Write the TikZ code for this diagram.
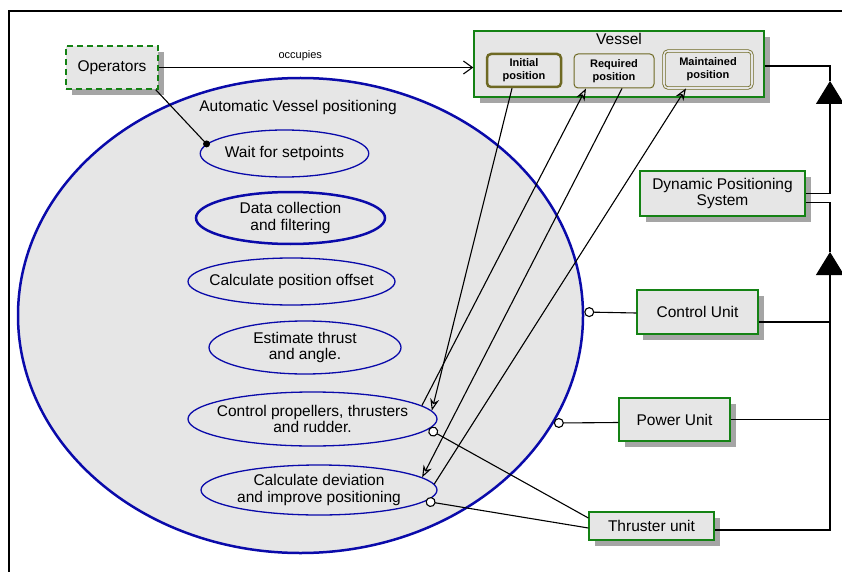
\documentclass[tikz,border=0pt]{standalone}
\usepackage{fontspec}
\setmainfont{Liberation Sans}
\usetikzlibrary{shapes.geometric,shadows,arrows.meta,positioning}
\definecolor{umlgreen}{RGB}{20,130,20}
\definecolor{umlblue}{RGB}{10,10,170}
\definecolor{umlolive}{RGB}{110,105,35}
\definecolor{umlfill}{RGB}{230,230,230}
\definecolor{umlshade}{RGB}{165,165,165}
\begin{document}
\begin{tikzpicture}[x=1pt,y=-1pt,
	font=\fontsize{15.5}{16.5}\selectfont,
	unit/.style={draw=umlgreen,line width=1.3pt,fill=umlfill,align=center,inner sep=2pt,
		drop shadow={shadow xshift=6pt,shadow yshift=-6pt,fill=umlshade,opacity=1}},
	posbox/.style={draw=umlolive,fill=umlfill,rounded corners=4pt,align=center,inner sep=1pt,
		font=\fontsize{11}{13}\selectfont\bfseries},
	task/.style={ellipse,draw=umlblue,line width=1.3pt,fill=umlfill,align=center,inner sep=0pt},
	link/.style={line width=1.1pt},
	flow/.style={link,-{Stealth[open,length=12pt,width=9pt]}},
	lolli/.style={link,-{Circle[length=10pt,fill=white]}},
	gen/.style={link,-{Triangle[length=23pt,width=28pt]}}]
	\useasboundingbox (0,0) rectangle (842,572);
	\draw[line width=2pt] (9,572) -- (9,11) -- (842,11);

	% use cases
	\node[ellipse,draw=umlblue,line width=2.5pt,fill=umlfill,minimum width=565pt,minimum height=475pt] (avp) at (300.5,315.5) {};
	\node at (298,107) {Automatic Vessel positioning};
	\node[task,minimum width=165pt,minimum height=47pt] (wait) at (284.5,153.5) {Wait for setpoints};
	\node[task,line width=2.5pt,minimum width=189pt,minimum height=52pt] (collect) at (290.5,218) {Data collection\\and filtering};
	\node[task,inner xsep=-9.5pt,minimum width=207pt,minimum height=47pt] (offset) at (291.5,281.5) {Calculate position offset};
	\node[task,minimum width=192pt,minimum height=53pt] (thrust) at (305,347.5) {Estimate thrust\\and angle.};
	\node[task,inner xsep=-8pt,minimum width=249pt,minimum height=54pt] (control) at (312.5,419) {Control propellers, thrusters\\and rudder.};
	\node[task,minimum width=236pt,minimum height=50pt] (deviation) at (319,490) {Calculate deviation\\and improve positioning};

	% actors and units
	\node[unit,dashed,dash pattern=on 6pt off 4pt,minimum width=92pt,minimum height=43pt] (ops) at (112,67.5) {Operators};
	\node[unit,minimum width=290pt,minimum height=66pt] (vessel) at (619,64) {};
	\node[anchor=north,inner sep=3pt] at (vessel.north) {Vessel};
	\node[posbox,line width=2.5pt,minimum width=74pt,minimum height=33pt] (init) at (524,70.5) {Initial\\position};
	\node[posbox,line width=1pt,minimum width=80pt,minimum height=34pt] (req) at (614,71) {Required\\position};
	\node[posbox,line width=0.8pt,double=umlfill,double distance=1.6pt,minimum width=88pt,minimum height=37pt] (maint) at (708,69.5) {Maintained\\position};
	\node[unit,minimum width=165pt,minimum height=45pt] (dps) at (722.5,193.5) {Dynamic Positioning\\System};
	\node[unit,minimum width=121pt,minimum height=44pt] (cu) at (697.5,312) {Control Unit};
	\node[unit,minimum width=111pt,minimum height=43pt] (pu) at (674.5,419.5) {Power Unit};
	\node[unit,minimum width=125pt,minimum height=28pt] (tu) at (651.5,526) {Thruster unit};

	% associations
	\draw[link,-{Straight Barb[length=9pt,width=13pt]}] (ops.east) -- node[pos=0.45,above=3pt,font=\fontsize{11}{12}\selectfont]{occupies} (ops.east -| vessel.west);
	\draw[link] ([xshift=-3pt]ops.south east) -- (wait.173);
	\fill (wait.173) circle (3.5pt);
	\draw[flow] ([xshift=-12pt]init.south) -- (control.4);
	\draw[flow] (control.7) -- ([xshift=-28pt]req.south);
	\draw[flow] ([xshift=8pt]req.south) -- (deviation.7);
	\draw[flow] (deviation.3) -- ([xshift=-22pt]maint.south);
	\draw[lolli] ([yshift=-1pt]cu.west) -- (cu.west -| avp.east);
	\draw[lolli] ([yshift=-3pt]pu.west) -- (avp.-23);
	\draw[lolli] ([yshift=8pt]tu.west) -- (control.-5);
	\draw[lolli] ([yshift=-2pt]tu.west) -- (deviation.-6);

	% generalisations
	\coordinate (tipA) at (830,81);
	\coordinate (tipB) at (830,252);
	\draw[link] ([yshift=-2pt]vessel.east) -| (tipA);
	\draw[gen] (dps.east) -| (tipA);
	\draw[link] ([yshift=-9pt]dps.east) -| (tipB);
	\draw[gen] ([yshift=-4pt]tu.east) -| (tipB);
	\draw[link] ([yshift=-10pt]cu.east) -- ([yshift=-10pt]cu.east -| tipB);
	\draw[link] (pu.east) -- (pu.east -| tipB);
\end{tikzpicture}
\end{document}
